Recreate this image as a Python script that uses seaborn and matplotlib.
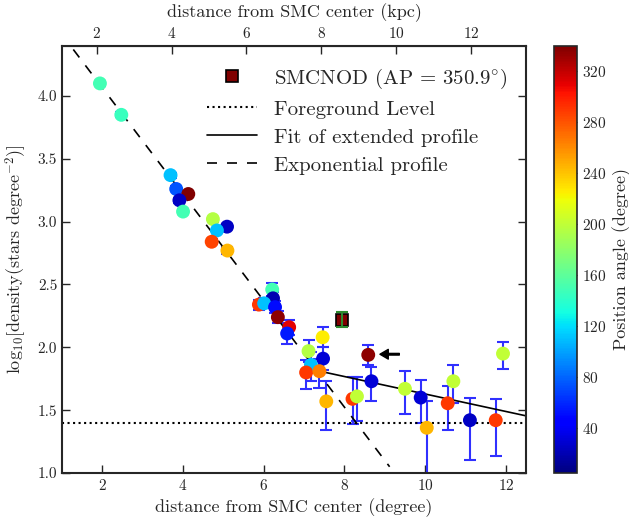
import numpy as np
import matplotlib
matplotlib.use("Agg")
import matplotlib.pyplot as plt
import seaborn as sns
import pandas as pd

# ---- data ----
dist_deg = [1.94, 2.47, 3.69, 3.83, 4.13, 3.91, 4.00, 4.74, 5.09, 4.84, 4.71, 5.10,
            6.21, 6.23, 5.88, 6.01, 6.28, 6.35, 6.63, 6.58, 7.46, 7.11, 7.47, 7.17, 7.05, 7.38,
            7.55, 8.20, 8.31, 8.59, 8.67, 9.50, 9.89, 10.04, 10.56, 10.70, 11.11, 11.75, 11.93]
log_density = [4.10, 3.85, 3.37, 3.26, 3.22, 3.17, 3.08, 3.02, 2.96, 2.93, 2.84, 2.77,
               2.46, 2.39, 2.34, 2.35, 2.32, 2.24, 2.16, 2.11, 2.08, 1.97, 1.91, 1.86, 1.80, 1.81,
               1.57, 1.59, 1.61, 1.94, 1.73, 1.67, 1.60, 1.36, 1.555, 1.73, 1.42, 1.42, 1.95]
position_angle = [150, 145, 110, 75, 340, 25, 150, 195, 25, 110, 285, 245,
                  150, 20, 290, 110, 50, 335, 310, 55, 225, 195, 30, 110, 290, 265,
                  245, 290, 200, 335, 30, 200, 30, 245, 290, 200, 25, 290, 200]
err_low = [0.02, 0.02, 0.02, 0.02, 0.02, 0.02, 0.02, 0.02, 0.02, 0.02, 0.02, 0.025,
           0.05, 0.05, 0.04, 0.04, 0.05, 0.05, 0.06, 0.08, 0.08, 0.09, 0.09, 0.13, 0.13, 0.13,
           0.23, 0.20, 0.20, 0.08, 0.16, 0.20, 0.20, 0.50, 0.215, 0.17, 0.32, 0.285, 0.12]
err_high = [0.02, 0.02, 0.02, 0.02, 0.02, 0.02, 0.02, 0.02, 0.02, 0.02, 0.02, 0.025,
            0.05, 0.05, 0.04, 0.04, 0.05, 0.05, 0.06, 0.08, 0.08, 0.09, 0.09, 0.10, 0.10, 0.10,
            0.16, 0.17, 0.15, 0.08, 0.11, 0.14, 0.14, 0.21, 0.135, 0.13, 0.18, 0.17, 0.09]

nod_x, nod_y, nod_err = [7.93], [2.22], [0.06]
nod_label = r"SMCNOD (AP = 350.9$^{\circ}$)"

foreground_level = 1.40
exp_x = [1.28, 9.12]
exp_intercept, exp_slope = 4.912, -0.4235
fit_x = [7.39, 12.6]
fit_intercept, fit_slope = 2.3236, -0.0695

kpc_per_deg = 1.077
pa_min, pa_max = 4.7, 340.0
cbar_ticks = [40, 80, 120, 160, 200, 240, 280, 320]
kpc_ticks = [2, 4, 6, 8, 10, 12]

# ---- style ----
sns.set_style("white")
plt.rcParams["font.family"] = ["cmr10", "DejaVu Serif"]
plt.rcParams["mathtext.fontset"] = "cm"
plt.rcParams["axes.unicode_minus"] = False
plt.rcParams["axes.formatter.use_mathtext"] = True

fig = plt.figure(figsize=(6.29, 5.20), dpi=100)
ax = fig.add_axes([62/629, 1-473/520, (526-62)/629, (473-45.7)/520])
cax = fig.add_axes([554/629, 1-473/520, 23/629, (473-45.7)/520])

df = pd.DataFrame({"x": dist_deg, "y": log_density, "pa": position_angle})
norm = matplotlib.colors.Normalize(vmin=pa_min, vmax=pa_max)
jet = matplotlib.colormaps["jet"]

ax.errorbar(dist_deg, log_density, yerr=[err_low, err_high], fmt="none",
            ecolor="#3030ff", elinewidth=1.5, capsize=4.5, capthick=1.5, zorder=2)
sns.scatterplot(data=df, x="x", y="y", hue="pa", palette=jet, hue_norm=norm,
                s=100, linewidth=0, legend=False, ax=ax, zorder=3)

ax.errorbar(nod_x, nod_y, yerr=nod_err, fmt="none", ecolor="#2e8b2e",
            elinewidth=1.5, capsize=4.5, capthick=1.5, zorder=4)
ax.plot(nod_x, nod_y, "s", color="#800000", mec="black", mew=1.2, ms=9,
        zorder=3, label=nod_label)

ax.axhline(foreground_level, color="black", ls=":", lw=1.5, label="Foreground Level")
fx = np.array(fit_x)
ax.plot(fx, fit_intercept + fit_slope * fx, "-", color="black", lw=1.2,
        label="Fit of extended profile")
ex = np.array(exp_x)
ax.plot(ex, exp_intercept + exp_slope * ex, "--", color="black", lw=1.2,
        dashes=(6, 6), label="Exponential profile")

ax.annotate("", xy=(8.88, 1.945), xytext=(9.36, 1.945),
            arrowprops=dict(facecolor="black", edgecolor="black", width=1.2,
                            headwidth=7, headlength=6, shrink=0))

ax.set_xlim(1.0, 12.5)
ax.set_ylim(1.0, 4.4)
ax.set_xticks([2, 4, 6, 8, 10, 12])
ax.set_yticks([1.0, 1.5, 2.0, 2.5, 3.0, 3.5, 4.0])
ax.yaxis.set_major_formatter(matplotlib.ticker.FormatStrFormatter("%.1f"))
ax.tick_params(direction="in", length=6, width=1, labelsize=11, right=True,
               top=False, bottom=True, left=True)
for s in ax.spines.values():
    s.set_linewidth(1.5)
ax.set_xlabel("distance from SMC center (degree)", fontsize=13, labelpad=4)
ax.set_ylabel(r"log$_{10}$[density(stars degree$^{-2}$)]", fontsize=13, labelpad=6)

sec = ax.secondary_xaxis("top", functions=(lambda d: d * kpc_per_deg,
                                           lambda k: k / kpc_per_deg))
sec.set_xticks(kpc_ticks)
sec.tick_params(direction="in", length=6, width=1, labelsize=11)
sec.set_xlabel("distance from SMC center (kpc)", fontsize=13, labelpad=6)

leg = ax.legend(loc="upper right", bbox_to_anchor=(1.0, 0.995), frameon=False,
                fontsize=15, handlelength=2.4, labelspacing=0.45, numpoints=1,
                handletextpad=0.8)

sm = matplotlib.cm.ScalarMappable(norm=norm, cmap=jet)
sm.set_array([])
cb = fig.colorbar(sm, cax=cax, ticks=cbar_ticks)
cb.ax.tick_params(direction="in", length=6, labelsize=11)
cb.outline.set_linewidth(1.2)
cb.set_label("Position angle (degree)", fontsize=13)

fig.savefig("out.png", dpi=100)
